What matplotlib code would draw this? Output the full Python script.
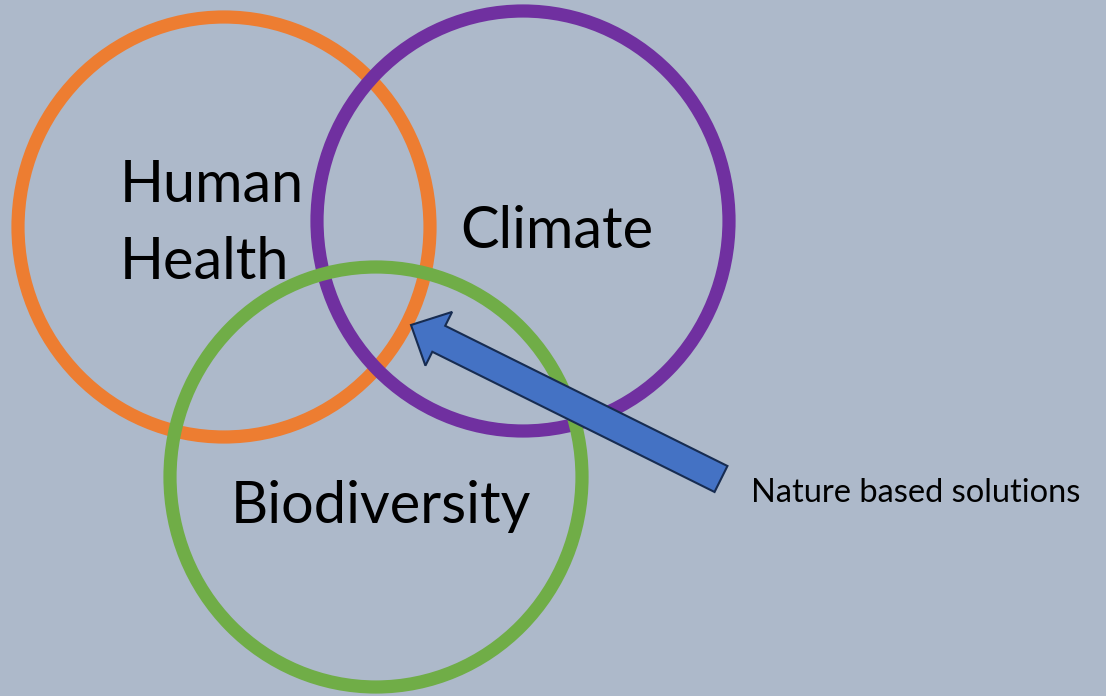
import matplotlib.pyplot as plt
from matplotlib.patches import Ellipse, FancyArrow

plt.rcParams['font.family'] = ['Lato', 'DejaVu Sans']

# three overlapping themes (pixel layout of the slide, y goes down)
labels = ["Human\nHealth", "Climate", "Biodiversity"]
colors = ["#ED7D31", "#7030A0", "#70AD47"]
centers = [(224, 227), (523, 221), (376, 477)]
label_pos = [(120, 202), (460, 248), (231, 523)]
radius_x, radius_y = 206, 210

arrow_tail = (721, 479)
arrow_tip = (411, 325)
arrow_text = "Nature based solutions"

fig = plt.figure(figsize=(11.06, 6.96), dpi=100)
fig.patch.set_facecolor("#ADB9CA")
ax = fig.add_axes([0, 0, 1, 1])
ax.set_facecolor("#ADB9CA")
ax.set_xlim(0, 1106)
ax.set_ylim(696, 0)
ax.axis("off")

for c, col in zip(centers, colors):
    ax.add_patch(Ellipse(c, 2 * radius_x, 2 * radius_y, fill=False,
                         edgecolor=col, lw=9.5, zorder=2))

for lab, (x, y) in zip(labels, label_pos):
    lines = lab.split("\n")
    for i, line in enumerate(lines):
        ax.text(x, y + i * 77, line, fontsize=41.5, ha="left", va="baseline",
                color="black", zorder=3)

dx = arrow_tip[0] - arrow_tail[0]
dy = arrow_tip[1] - arrow_tail[1]
ax.add_patch(FancyArrow(arrow_tail[0], arrow_tail[1], dx, dy, width=29,
                        head_width=60, head_length=31,
                        length_includes_head=True,
                        facecolor="#4472C4", edgecolor="#172C51", lw=1.5,
                        zorder=4))

ax.text(751, 502, arrow_text, fontsize=23.5, ha="left", va="baseline",
        color="black", zorder=3)

fig.savefig("out.png", dpi=100, facecolor=fig.get_facecolor())
